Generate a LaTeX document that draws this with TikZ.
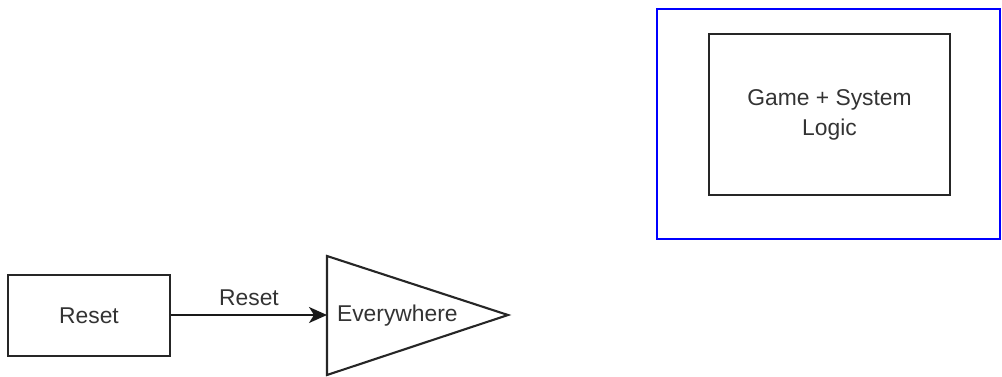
\documentclass[tikz,border=0pt]{standalone}
\usepackage{fontspec}
\setmainfont{Liberation Sans}
\usetikzlibrary{arrows.meta,positioning}
\begin{document}
\begin{tikzpicture}[x=0.02cm,y=-0.02cm,
        block/.style={draw=black!85,line width=1.2pt,inner sep=0pt,text=black!80,font=\fontsize{13}{17}\selectfont,align=center},
        flow/.style={draw=black!90,line width=1.1pt,-{Stealth[length=3.6mm,width=3.2mm,inset=1mm]}}]
        \useasboundingbox (0,0) rectangle (1002,376);
        % outer frame
        \draw[blue,line width=1.2pt] (657,9) rectangle (1000,239);
        \node[block,minimum width=4.82cm,minimum height=3.22cm] (logic) at (829.5,114.5) {Game + System\\Logic};
        \node[block,minimum width=3.24cm,minimum height=1.62cm] (reset) at (89,315.5) {Reset};
        % triangle
        \draw[block,line join=miter] (327,256) -- (508,315) coordinate (tip) -- (327,375) -- cycle;
        \coordinate (everyin) at (327,315);
        \node[block,draw=none,anchor=west] (every) at (336,316) {Everywhere};
        \draw[flow] (reset.east |- everyin) -- node[midway,above=0.17cm,inner sep=0pt,text=black!80,font=\fontsize{13}{17}\selectfont] (resetlbl) {Reset} (everyin);
    \end{tikzpicture}
\end{document}
